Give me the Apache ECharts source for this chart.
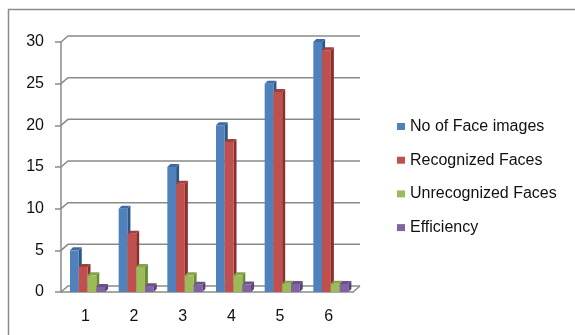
<!DOCTYPE html>
<html>
<head>
<meta charset="utf-8">
<script src="https://cdn.jsdelivr.net/npm/echarts@6/dist/echarts.min.js"></script>
<style>
  html, body { margin: 0; padding: 0; background: #fff; }
  #main { width: 575px; height: 335px; }
</style>
</head>
<body>
<div id="main"></div>
<script>
// chart data
var categories = ['1', '2', '3', '4', '5', '6'];
var faceImages = [5, 10, 15, 20, 25, 30];
var recognized = [3, 7, 13, 18, 24, 29];
var unrecognized = [2, 3, 2, 2, 1, 1];
var efficiency = [0.6, 0.7, 0.87, 0.9, 0.96, 0.97];
var yTicks = [0, 5, 10, 15, 20, 25, 30];

var seriesNames = ['No of Face images', 'Recognized Faces', 'Unrecognized Faces', 'Efficiency'];
var seriesValues = [faceImages, recognized, unrecognized, efficiency];
// front, side, top
var palette = [
  ['#4F81BD', '#2f5688', '#3d6aa3'],
  ['#C0504D', '#8a2f2d', '#a33e3b'],
  ['#9BBB59', '#6d8a35', '#84a445'],
  ['#8064A2', '#5a4278', '#6b5189']
];

var DX = 3, DY = 3;     // bar depth
var WX = 7, WY = 6;     // back wall offset

function barRenderer(idx) {
  var c = palette[idx];
  return function (params, api) {
    var base = api.coord([api.value(0), 0]);
    var tip = api.coord([api.value(0), api.value(1)]);
    var band = api.size([1, 0])[0];
    var w = band * 0.18;
    var x0 = base[0] - band * 0.315 + idx * w;
    var x1 = x0 + w;
    var y0 = tip[1], yb = base[1];
    return {
      type: 'group',
      children: [
        { type: 'polygon', shape: { points: [[x1, yb], [x1 + DX, yb - DY], [x1 + DX, y0 - DY], [x1, y0]] }, style: { fill: c[1] } },
        { type: 'polygon', shape: { points: [[x0, y0], [x0 + DX, y0 - DY], [x1 + DX, y0 - DY], [x1, y0]] }, style: { fill: c[2] } },
        { type: 'rect', shape: { x: x0, y: y0, width: w, height: yb - y0 }, style: { fill: c[0] } }
      ]
    };
  };
}

function gridRenderer(params, api) {
  var cs = params.coordSys;
  var y = api.coord([0, api.value(1)])[1];
  var pts = [[cs.x, y], [cs.x + WX, y - WY], [cs.x + cs.width + WX, y - WY]];
  var children = [{ type: 'polyline', shape: { points: pts }, style: { stroke: '#8a8a8a', lineWidth: 1.5, fill: null } }];
  if (api.value(1) === 0) {
    children.push({ type: 'line', shape: { x1: cs.x + cs.width, y1: y, x2: cs.x + cs.width + WX, y2: y - WY }, style: { stroke: '#8a8a8a', lineWidth: 1.5 } });
  }
  return { type: 'group', children: children };
}

var series = [{
  type: 'custom',
  name: 'grid',
  silent: true,
  z: 1,
  renderItem: gridRenderer,
  data: yTicks.map(function (v) { return [0, v]; }),
  encode: { x: 0, y: 1 }
}];
seriesNames.forEach(function (name, i) {
  series.push({
    type: 'custom',
    name: name,
    z: 2,
    itemStyle: { color: palette[i][0] },
    renderItem: barRenderer(i),
    data: seriesValues[i].map(function (v, k) { return [k, v]; }),
    encode: { x: 0, y: 1 }
  });
});

var myChart = echarts.init(document.getElementById('main'));

var option = {
  animation: false,
  textStyle: { fontFamily: 'Liberation Sans' },
  graphic: [{
    type: 'polyline',
    shape: { points: [[8.5, 400], [8.5, 9.5], [600, 9.5]] },
    style: { fill: null, stroke: '#8c8c8c', lineWidth: 1.5 },
    silent: true
  }],
  grid: { left: 61, top: 42, width: 292, height: 250 },
  legend: {
    orient: 'vertical',
    left: 397,
    top: 118.5,
    padding: 0,
    icon: 'rect',
    itemWidth: 8,
    itemHeight: 7,
    itemGap: 17.7,
    data: seriesNames,
    textStyle: { fontSize: 16, lineHeight: 16, color: '#111', fontFamily: 'Liberation Sans' }
  },
  xAxis: {
    type: 'category',
    data: categories,
    axisLine: { lineStyle: { color: '#8a8a8a', width: 1.5 } },
    axisTick: { length: 5, lineStyle: { color: '#8a8a8a', width: 1.5 } },
    axisLabel: { margin: 17, fontSize: 16, color: '#111' }
  },
  yAxis: {
    type: 'value',
    min: 0,
    max: 30,
    interval: 5,
    splitLine: { show: false },
    axisLine: { show: true, lineStyle: { color: '#8a8a8a', width: 1.5 } },
    axisTick: { show: true, length: 6, lineStyle: { color: '#8a8a8a', width: 1.5 } },
    axisLabel: { margin: 17, fontSize: 16, color: '#111' }
  },
  series: series
};

myChart.setOption(option);
</script>
</body>
</html>
